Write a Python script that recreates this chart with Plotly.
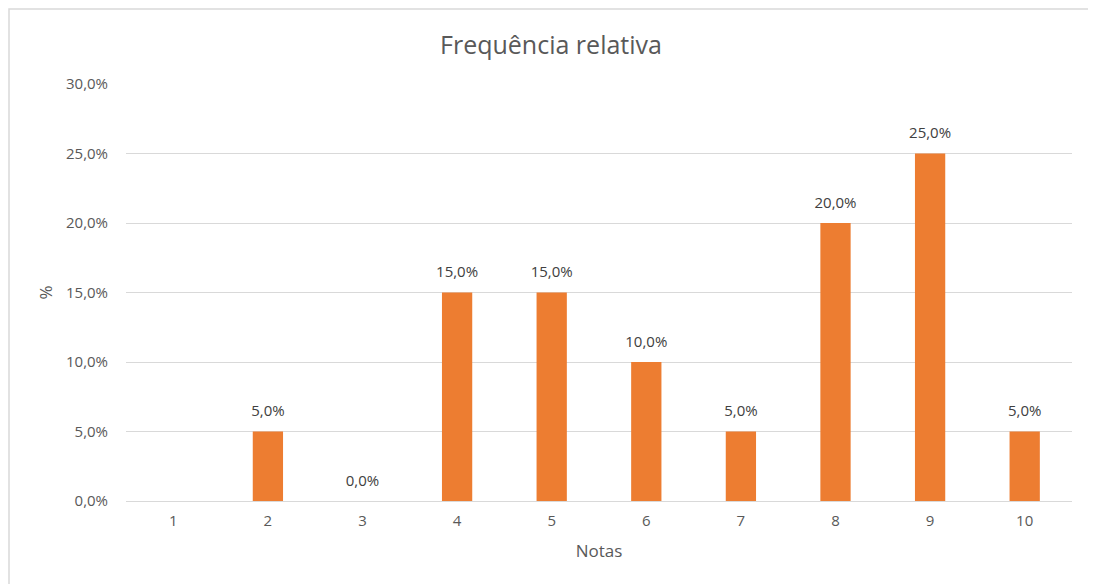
import plotly.graph_objects as go

notas = ["1", "2", "3", "4", "5", "6", "7", "8", "9", "10"]
freq_rel = [None, 0.05, 0.0, 0.15, 0.15, 0.10, 0.05, 0.20, 0.25, 0.05]
y_ticks = [0, 0.05, 0.10, 0.15, 0.20, 0.25, 0.30]

FONT = "Open Sans, Liberation Sans, sans-serif"
GREY = "#595959"

fig = go.Figure()
fig.add_trace(
    go.Bar(
        x=notas,
        y=freq_rel,
        marker=dict(color="#ED7D31", line=dict(width=0)),
        width=0.32,
        hoverinfo="skip",
    )
)
# data labels: invisible markers push the text above the bar tops
fig.add_trace(
    go.Scatter(
        x=notas,
        y=freq_rel,
        mode="markers+text",
        marker=dict(size=17, opacity=0),
        texttemplate="%{y:.1%}",
        textposition="top center",
        textfont=dict(size=15, color="#404040", family=FONT),
        cliponaxis=False,
        hoverinfo="skip",
    )
)

# page body has an 8px margin: figure occupies (8,8)-(1096,584)
OFF = 8
W, H = 1096 - OFF, 584 - OFF
L, T = 126 - OFF, 84 - OFF
R = W - (1072 - OFF)
B = H - (501 - OFF)
pw, ph = W - L - R, H - T - B

fig.update_layout(
    width=W,
    height=H,
    margin=dict(l=L, r=R, t=T, b=B),
    separators=",.",
    plot_bgcolor="white",
    paper_bgcolor="white",
    showlegend=False,
    title=dict(
        text="Frequência relativa",
        x=(551 - OFF) / W,
        xanchor="center",
        y=1 - (45 - OFF) / H,
        yanchor="middle",
        font=dict(size=25, color=GREY, family=FONT),
    ),
    font=dict(family=FONT, color=GREY, size=15),
    xaxis=dict(
        title=dict(text="Notas", font=dict(size=17, color=GREY), standoff=16),
        range=[-0.5, len(notas) - 0.5],
        showgrid=False,
        showline=False,
        ticks="outside",
        ticklen=6,
        tickcolor="white",
        tickfont=dict(size=15, color=GREY),
    ),
    yaxis=dict(
        title=dict(text="%", font=dict(size=17, color=GREY), standoff=9),
        range=[0, 0.30],
        tickvals=y_ticks,
        tickformat=".1%",
        showgrid=True,
        gridcolor="#D9D9D9",
        gridwidth=1,
        zeroline=True,
        zerolinecolor="#D9D9D9",
        zerolinewidth=1,
        showline=False,
        ticks="outside",
        ticklen=14,
        tickcolor="white",
        tickfont=dict(size=15, color=GREY),
    ),
    shapes=[
        dict(
            type="rect",
            xref="paper",
            yref="paper",
            x0=(9 - 126) / pw,
            x1=(1090 - 126) / pw,
            y0=(501 - 620) / ph,
            y1=(501 - 9) / ph,
            line=dict(color="#D9D9D9", width=1.5),
            fillcolor="rgba(0,0,0,0)",
            layer="below",
        )
    ],
)

fig.write_html("out.html")
